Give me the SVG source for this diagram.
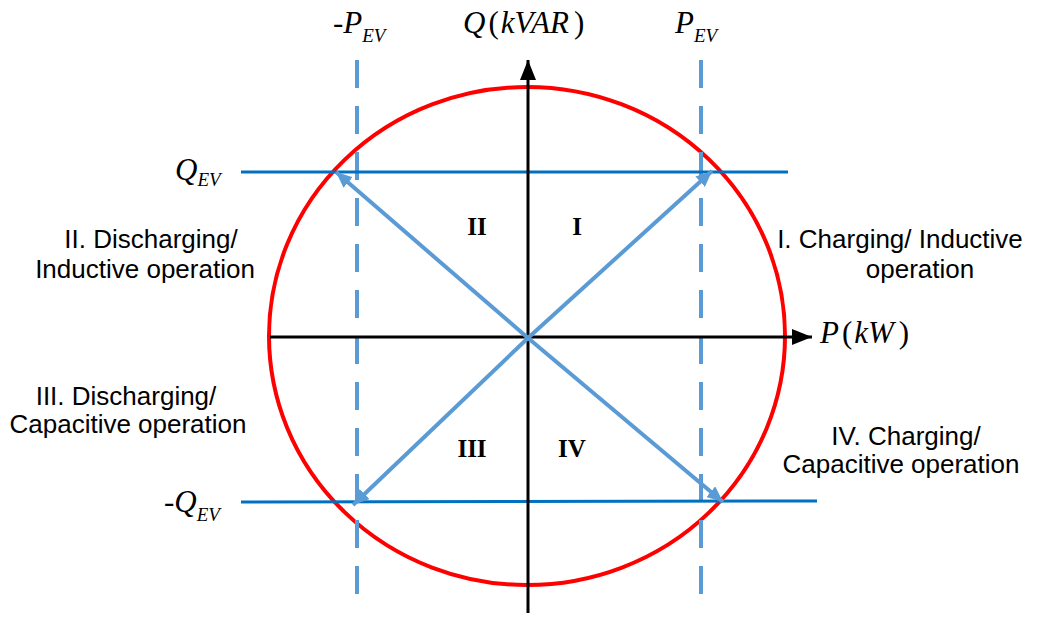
<svg xmlns="http://www.w3.org/2000/svg" width="1042" height="617" viewBox="0 0 1042 617">
<style>
.math{font-family:"Liberation Serif","Times New Roman",serif;font-style:italic;fill:#000}
.up{font-family:"Liberation Serif","Times New Roman",serif;font-style:normal;fill:#000}
.lbl{font-family:"Liberation Sans",Arial,sans-serif;font-size:26px;fill:#000;text-anchor:middle}
.rom{font-family:"Liberation Serif","Times New Roman",serif;font-weight:bold;font-size:25px;fill:#000;text-anchor:middle}
.axis{stroke:#000;stroke-width:3;fill:none}
.dash{stroke:#5B9BD5;stroke-width:4;stroke-dasharray:28 18;fill:none}
.qline{stroke:#0070C0;stroke-width:3;fill:none}
.vec{stroke:#5B9BD5;stroke-width:4;fill:none}
</style>
<defs>
<marker id="ah" viewBox="0 0 20 16" refX="20" refY="8" markerWidth="20" markerHeight="16" orient="auto" markerUnits="userSpaceOnUse">
<path d="M0,0 L20,8 L0,16 z" fill="#000"/>
</marker>
<marker id="bh" viewBox="0 0 16 14" refX="16" refY="7" markerWidth="16" markerHeight="14" orient="auto" markerUnits="userSpaceOnUse">
<path d="M0,0 L16,7 L0,14 z" fill="#5B9BD5"/>
</marker>
</defs>
<g id="circle">
<ellipse cx="527" cy="336" rx="258" ry="249" fill="none" stroke="#FF0000" stroke-width="4"/>
</g>
<g id="connectors">
<line class="dash" x1="357" y1="60" x2="357" y2="608"/>
<line class="dash" x1="701" y1="60" x2="701" y2="608"/>
<line class="qline" x1="241" y1="172" x2="788" y2="172"/>
<line class="qline" x1="241" y1="502" x2="817" y2="501"/>
<path class="axis" d="M270,337 H812" marker-end="url(#ah)"/>
<path class="axis" d="M528,613 V60" marker-end="url(#ah)"/>
<line class="vec" x1="528" y1="338" x2="712" y2="171" marker-end="url(#bh)"/>
<line class="vec" x1="528" y1="338" x2="336" y2="172" marker-end="url(#bh)"/>
<line class="vec" x1="528" y1="338" x2="353" y2="505" marker-end="url(#bh)"/>
<line class="vec" x1="528" y1="338" x2="723" y2="502" marker-end="url(#bh)"/>
</g>
<g id="axis-labels">
<text class="math" x="333" y="33" font-size="31">-P<tspan font-size="19" dy="9">EV</tspan></text>
<text class="math" x="463" y="33" font-size="31">Q<tspan class="up" dx="3">(</tspan><tspan dx="2">kVAR</tspan><tspan class="up" dx="5">)</tspan></text>
<text class="math" x="675" y="33" font-size="31">P<tspan font-size="19" dy="9">EV</tspan></text>
<text class="math" x="175" y="180" font-size="31">Q<tspan font-size="19" dy="6">EV</tspan></text>
<text class="math" x="164" y="512" font-size="31">-Q<tspan font-size="19" dy="9">EV</tspan></text>
<text class="math" x="820" y="343" font-size="31">P<tspan class="up" dx="3">(</tspan><tspan dx="2">kW</tspan><tspan class="up" dx="5">)</tspan></text>
</g>
<g id="quadrants">
<text class="rom" x="477" y="235">II</text>
<text class="rom" x="577" y="235">I</text>
<text class="rom" x="472" y="457">III</text>
<text class="rom" x="572" y="457">IV</text>
</g>
<g id="descriptions">
<text class="lbl" x="151" y="248">II. Discharging/</text>
<text class="lbl" x="145" y="278">Inductive operation</text>
<text class="lbl" x="900" y="248">I. Charging/ Inductive</text>
<text class="lbl" x="920" y="278">operation</text>
<text class="lbl" x="126" y="405">III. Discharging/</text>
<text class="lbl" x="128" y="433">Capacitive operation</text>
<text class="lbl" x="906" y="445">IV. Charging/</text>
<text class="lbl" x="901" y="473">Capacitive operation</text>
</g>
</svg>
